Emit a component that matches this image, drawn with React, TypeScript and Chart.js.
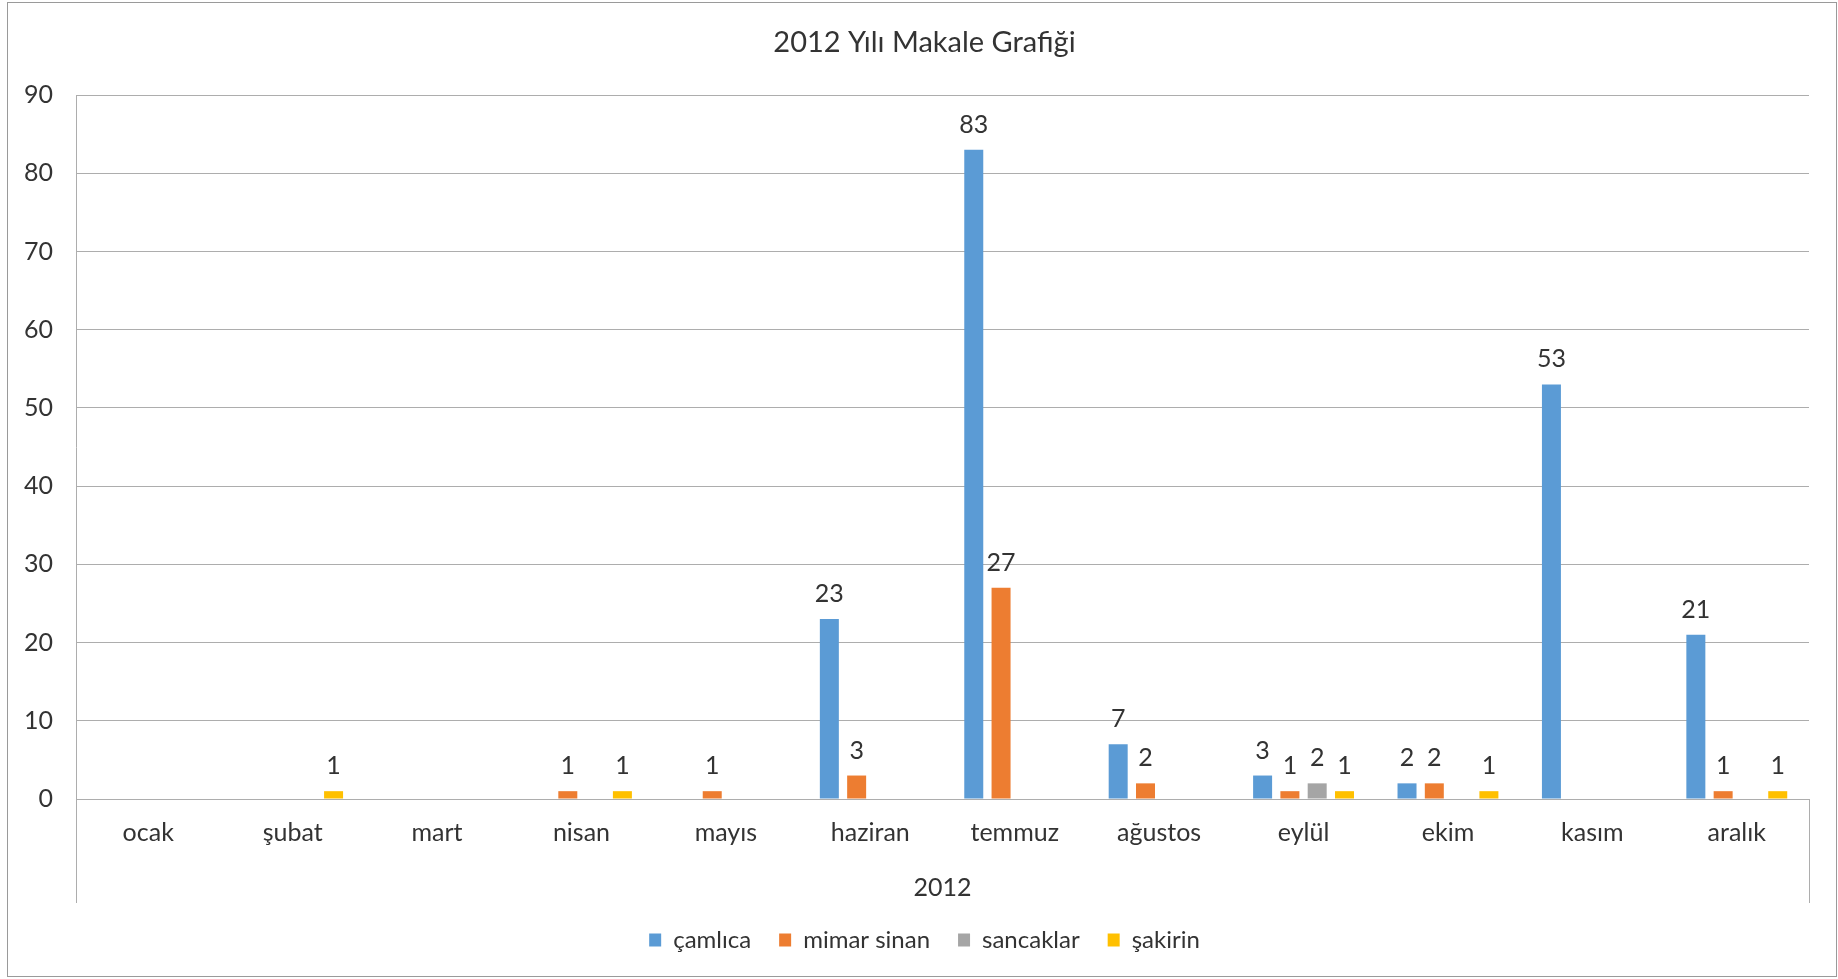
import React, { useEffect, useRef } from 'react';
import { Chart, registerables } from 'chart.js';

Chart.register(...registerables);

const chartTitle = '2012 Yılı Makale Grafiği';
const groupLabel = '2012';
const categories = ['ocak', 'şubat', 'mart', 'nisan', 'mayıs', 'haziran', 'temmuz', 'ağustos', 'eylül', 'ekim', 'kasım', 'aralık'];
const seriesNames = ['çamlıca', 'mimar sinan', 'sancaklar', 'şakirin'];
const camlica = [null, null, null, null, null, 23, 83, 7, 3, 2, 53, 21];
const mimarSinan = [null, null, null, 1, 1, 3, 27, 2, 1, 2, null, 1];
const sancaklar = [null, null, null, null, null, null, null, null, 2, null, null, null];
const sakirin = [null, 1, null, 1, null, null, null, null, 1, 1, null, 1];
const seriesColors = ['#5B9BD5', '#ED7D31', '#A5A5A5', '#FFC000'];
const yMin = 0;
const yMax = 90;
const yStep = 10;

const W = 1838;
const H = 979;
const TEXT = '#333333';
const GRID = '#ADADAD';
const FONT = 'Lato';
const PAD_L = 40;
const PAD_R = 29;

function align(p: number) {
  return Math.round(p - 0.5) + 0.5;
}

const extrasPlugin = {
  id: 'extras',
  afterLayout(chart: any) {
    // let the y tick labels draw outside the narrow axis box without clipping
    const y = chart.scales.y;
    if (y) y.left = 0;
  },
  afterDatasetsDraw(chart: any) {
    const ctx = chart.ctx;
    ctx.save();
    ctx.fillStyle = TEXT;
    ctx.font = `25px ${FONT}`;
    ctx.textAlign = 'center';
    ctx.textBaseline = 'alphabetic';
    chart.data.datasets.forEach((ds: any, i: number) => {
      const meta = chart.getDatasetMeta(i);
      meta.data.forEach((bar: any, j: number) => {
        const v = ds.data[j];
        if (v === null || v === undefined) return;
        ctx.fillText(String(v), bar.x, bar.y - 17);
      });
    });
    ctx.restore();
  },
  afterDraw(chart: any) {
    const ctx = chart.ctx;
    const { left, right, bottom } = chart.chartArea;
    ctx.save();
    ctx.strokeStyle = GRID;
    ctx.lineWidth = 1;
    ctx.beginPath();
    ctx.moveTo(align(left), bottom);
    ctx.lineTo(align(left), 903);
    ctx.moveTo(align(right), bottom);
    ctx.lineTo(align(right), 903);
    ctx.stroke();
    ctx.strokeStyle = '#9A9A9A';
    ctx.strokeRect(7.5, 2.5, 1836 - 7, 976 - 2);
    ctx.restore();
  },
};

export default function App() {
  const ref = useRef<HTMLCanvasElement | null>(null);

  useEffect(() => {
    if (!ref.current) return;
    Chart.defaults.font.family = FONT;
    const data = [camlica, mimarSinan, sancaklar, sakirin];
    const chart = new Chart(ref.current, {
      type: 'bar',
      data: {
        labels: categories,
        datasets: seriesNames.map((name, i) => ({
          label: name,
          data: data[i] as any,
          backgroundColor: seriesColors[i],
          borderWidth: 0,
          barPercentage: 0.696,
          categoryPercentage: 0.756,
        })),
      },
      options: {
        responsive: false,
        animation: false,
        devicePixelRatio: 1,
        layout: { padding: { left: PAD_L, right: PAD_R, top: 0, bottom: 17 } },
        plugins: {
          title: {
            display: true,
            text: chartTitle,
            color: TEXT,
            font: { size: 29, weight: 'normal', family: FONT },
            padding: { top: 25.6, bottom: 34.6 },
          },
          legend: {
            display: true,
            position: 'bottom',
            labels: {
              color: TEXT,
              font: { size: 24, family: FONT },
              boxWidth: 12,
              boxHeight: 13,
              padding: 28,
            },
          },
          tooltip: { enabled: false },
        },
        scales: {
          x: {
            grid: { display: false, drawTicks: false },
            border: { display: true, color: GRID },
            ticks: { color: TEXT, font: { size: 25, family: FONT }, padding: 19, maxRotation: 0, autoSkip: false },
            title: {
              display: true,
              text: groupLabel,
              color: TEXT,
              font: { size: 25, family: FONT },
              padding: { top: 4, bottom: -2.5 },
            },
            afterFit: (s: any) => {
              s.height = 101;
            },
          },
          y: {
            min: yMin,
            max: yMax,
            grid: { color: GRID, drawTicks: false },
            border: { display: true, color: GRID },
            ticks: { stepSize: yStep, color: TEXT, font: { size: 25, family: FONT }, padding: 23 },
            afterFit: (s: any) => {
              s.width = 76 - PAD_L;
            },
          },
        },
      },
      plugins: [extrasPlugin],
    });
    return () => chart.destroy();
  }, []);

  return (
    <canvas
      ref={ref}
      width={W}
      height={H}
      style={{ position: 'absolute', left: 0, top: 0, width: W, height: H, display: 'block' }}
    />
  );
}
